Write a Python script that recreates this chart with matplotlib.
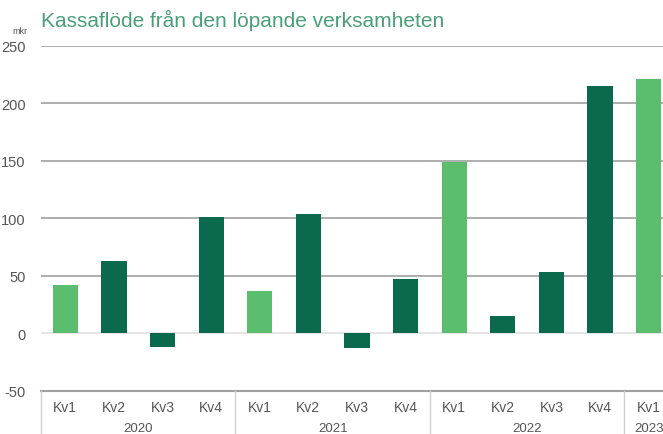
import matplotlib.pyplot as plt
import numpy as np

# data
quarters = ["Kv1", "Kv2", "Kv3", "Kv4"] * 3 + ["Kv1"]
years = ["2020", "2021", "2022", "2023"]
values = [42, 63, -12, 101, 37, 104, -13, 47, 149, 15, 53, 215, 221]
light = [True, False, False, False, True, False, False, False, True, False, False, False, True]

c_light = "#5bbd6e"
c_dark = "#0b6a4e"
gray = "#555555"

plt.rcParams['font.family'] = ['Liberation Sans', 'DejaVu Sans']

fig = plt.figure(figsize=(6.63, 4.35), dpi=100)
ax = fig.add_axes([41/663, 43/435, 632/663, 345.5/435])

x = np.arange(len(values))
cols = [c_light if l else c_dark for l in light]
ax.bar(x, values, width=0.52, color=cols, zorder=3)

ax.set_xlim(-0.5, len(values) - 0.5)
ax.set_ylim(-50, 250)
ax.set_yticks(range(-50, 251, 50))
ax.tick_params(axis='y', length=0, pad=11, labelsize=10.5, labelcolor=gray)
ax.set_yticklabels([str(v) for v in range(-50, 251, 50)])
for v in range(50, 251, 50):
    ax.axhline(v, color="#a0a0a0", lw=1.2, zorder=1)
ax.axhline(0, color="#e0e0e0", lw=1.2, zorder=1)
ax.axhline(-50, color="#a0a0a0", lw=1.5, zorder=1, clip_on=False)
for s in ax.spines.values():
    s.set_visible(False)

ax.set_xticks([])
for i, q in enumerate(quarters):
    ax.text(i, -58, q, ha="center", va="top", fontsize=10, color=gray)
for j, yr in enumerate(years):
    ax.text(j * 4 + 1.5 if j < 3 else 12, -77, yr, ha="center", va="top",
            fontsize=9.5, color=gray, clip_on=False)
for b in [-0.5, 3.5, 7.5, 11.5]:
    ax.plot([b, b], [-50, -90], color="#d0d0d0", lw=1, clip_on=False)

fig.text(41/663, 1 - 20/435, "Kassaflöde från den löpande verksamheten",
         fontsize=15, color="#4a9f78", va="center", ha="left")
fig.text(20/663, 1 - 32/435, "mkr", fontsize=6.5, color=gray, va="center", ha="center")

fig.savefig("out.png", dpi=100)
